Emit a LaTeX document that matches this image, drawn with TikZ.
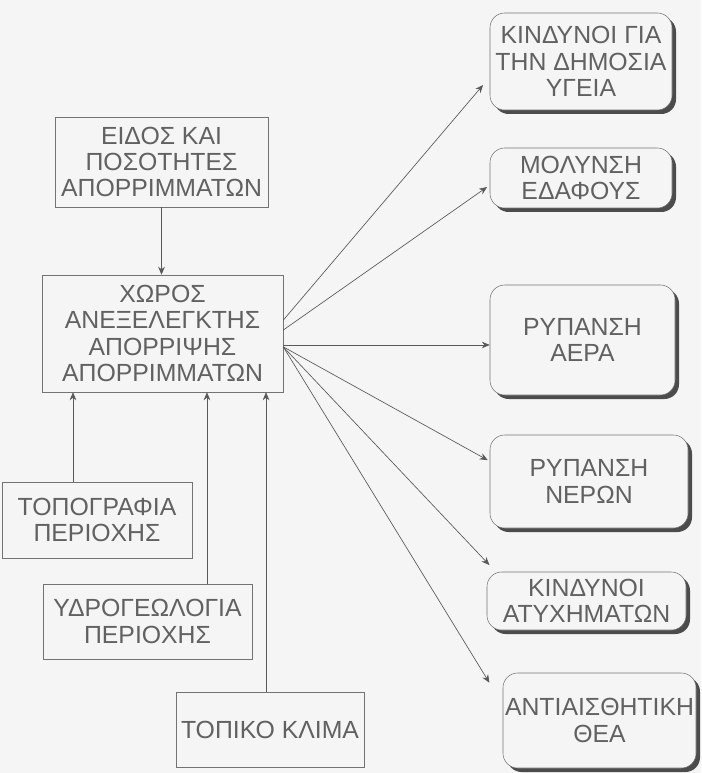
\documentclass[tikz,border=0pt]{standalone}
\usepackage{fontspec}
\setmainfont{Liberation Sans}
\usepackage{tikz}
\usetikzlibrary{arrows.meta, shadows}

\begin{document}
\begin{tikzpicture}[x=0.75pt, y=-0.75pt,
        every node/.style={font=\fontsize{18.6}{19.8}\selectfont, text=black!62, align=center},
        sqbox/.style={draw=black!55, inner sep=0pt},
        rndbox/.style={draw=black!55, fill=black!4, rounded corners=11pt, inner sep=0pt,
            drop shadow={shadow xshift=3pt, shadow yshift=-3pt, fill=black!70, opacity=1}},
        arr/.style={-{Stealth[length=6pt,width=5pt]}, black!65, line width=0.5pt}]
            % Page background
            \fill[black!4, use as bounding box] (0,0) rectangle (701,773);

            % Inputs to the site (left column)
            \node[sqbox, minimum width=159.75pt, minimum height=67.5pt] (src) at (161.5,162)
                {ΕΙΔΟΣ ΚΑΙ\\ΠΟΣΟΤΗΤΕΣ\\ΑΠΟΡΡΙΜΜΑΤΩΝ};
            \node[sqbox, minimum width=180.75pt, minimum height=87.75pt] (site) at (162.5,333.5)
                {ΧΩΡΟΣ\\ΑΝΕΞΕΛΕΓΚΤΗΣ\\ΑΠΟΡΡΙΨΗΣ\\ΑΠΟΡΡΙΜΜΑΤΩΝ};
            \node[sqbox, minimum width=142.5pt, minimum height=57pt] (topo) at (97,520)
                {ΤΟΠΟΓΡΑΦΙΑ\\ΠΕΡΙΟΧΗΣ};
            \node[sqbox, minimum width=156.75pt, minimum height=56.25pt] (hydro) at (147.5,621.5)
                {ΥΔΡΟΓΕΩΛΟΓΙΑ\\ΠΕΡΙΟΧΗΣ};
            \node[sqbox, minimum width=141pt, minimum height=56.25pt] (clim) at (270,729.5)
                {ΤΟΠΙΚΟ ΚΛΙΜΑ};

            % Impacts (right column) - rounded, with shadow
            \node[rndbox, minimum width=136.5pt, minimum height=72.75pt] (health) at (581,61.5)
                {ΚΙΝΔΥΝΟΙ ΓΙΑ\\ΤΗΝ ΔΗΜΟΣΙΑ\\ΥΓΕΙΑ};
            \node[rndbox, minimum width=136.5pt, minimum height=45pt] (soil) at (581,178)
                {ΜΟΛΥΝΣΗ\\ΕΔΑΦΟΥΣ};
            \node[rndbox, minimum width=138.75pt, minimum height=82.5pt] (air) at (582.5,340)
                {ΡΥΠΑΝΣΗ\\ΑΕΡΑ};
            \node[rndbox, minimum width=148.5pt, minimum height=69.75pt] (water) at (589,481.5)
                {ΡΥΠΑΝΣΗ\\ΝΕΡΩΝ};
            \node[rndbox, minimum width=149.25pt, minimum height=43.5pt] (accid) at (586.5,601)
                {ΚΙΝΔΥΝΟΙ\\ΑΤΥΧΗΜΑΤΩΝ};
            \node[rndbox, minimum width=144.75pt, minimum height=71.25pt] (view) at (599.5,720.5)
                {ΑΝΤΙΑΙΣΘΗΤΙΚΗ\\ΘΕΑ};

            % Arrows into the site
            \draw[arr] (src.south) -- (src.south |- site.north);
            \draw[arr] ([xshift=-18pt]topo.north) -- ([xshift=-18pt]topo.north |- site.south);
            \draw[arr] ([xshift=44.6pt]hydro.north) -- ([xshift=44.6pt]hydro.north |- site.south);
            \draw[arr] ([xshift=-3pt]clim.north) -- ([xshift=-3pt]clim.north |- site.south);

            % Arrows out to the impacts
            \draw[arr] ([yshift=10pt]site.east) -- ([shift={(-5pt,-17.6pt)}]health.west);
            \draw[arr] ([yshift=2.6pt]site.east) -- ([shift={(-2pt,-6.75pt)}]soil.west);
            \draw[arr] ([yshift=-8.6pt]site.east) -- ([yshift=-8.6pt]site.east -| air.west);
            \draw[arr] ([yshift=-10pt]site.east) -- ([shift={(-1.5pt,16pt)}]water.west);
            \draw[arr] ([yshift=-10pt]site.east) -- ([shift={(2pt,5pt)}]accid.north west);
            \draw[arr] ([yshift=-10pt]site.east) -- ([shift={(-10pt,-7.5pt)}]view.north west);
        \end{tikzpicture}
\end{document}
